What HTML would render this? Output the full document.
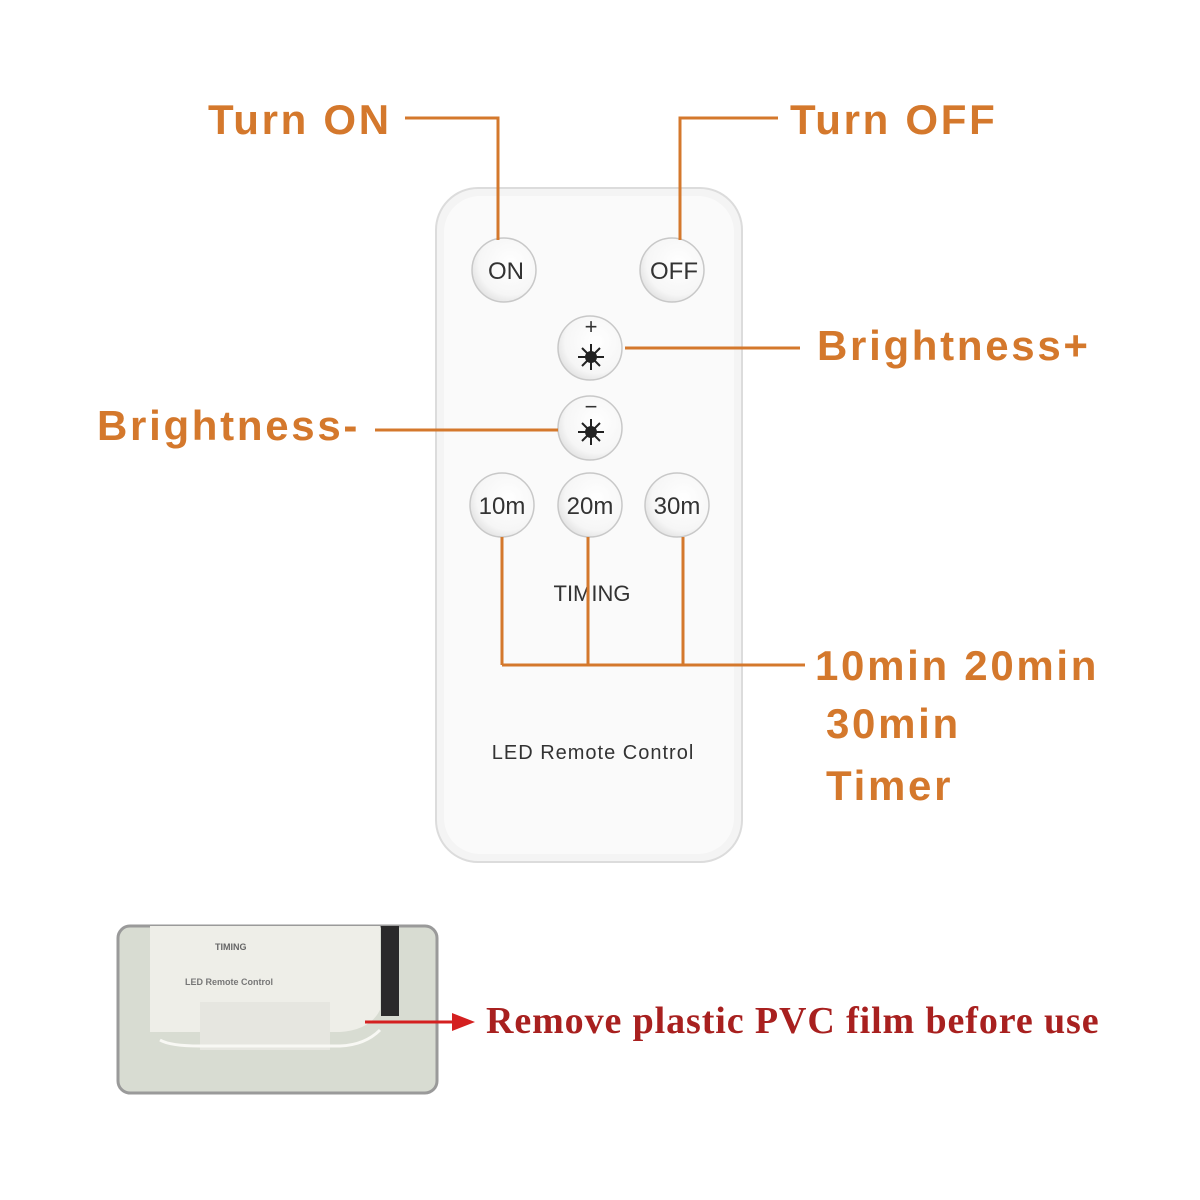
<!DOCTYPE html><html><head><style>
body{margin:0;background:#fff;width:1200px;height:1200px;position:relative;overflow:hidden;font-family:"Liberation Sans",sans-serif}
.t{position:absolute;color:#d4782c;font-weight:bold;font-size:42px;letter-spacing:2.7px;white-space:nowrap}
</style></head><body>
<svg width="1200" height="1200" style="position:absolute;left:0;top:0">
<defs><radialGradient id="b" cx="0.6" cy="0.4" r="0.7"><stop offset="0" stop-color="#fff"/><stop offset="0.7" stop-color="#f6f6f6"/><stop offset="1" stop-color="#dcdcdc"/></radialGradient></defs>
<rect x="436" y="188" width="306" height="674" rx="42" fill="#f4f4f4" stroke="#dcdcdc" stroke-width="2"/>
<rect x="444" y="196" width="290" height="658" rx="36" fill="#fafafa"/>
<g fill="url(#b)" stroke="#c8c8c8" stroke-width="1.5">
<circle cx="504" cy="270" r="32"/><circle cx="672" cy="270" r="32"/>
<circle cx="590" cy="348" r="32"/><circle cx="590" cy="428" r="32"/>
<circle cx="502" cy="505" r="32"/><circle cx="590" cy="505" r="32"/><circle cx="677" cy="505" r="32"/>
</g>
<g font-family="Liberation Sans" font-size="24" fill="#333" text-anchor="middle">
<text x="506" y="279">ON</text><text x="674" y="279">OFF</text>
<text x="502" y="514">10m</text><text x="590" y="514">20m</text><text x="677" y="514">30m</text>
<text x="592" y="601" font-size="22">TIMING</text>
<text x="593" y="759" font-size="20" letter-spacing="1">LED Remote Control</text>
<text x="591" y="334" font-size="22">+</text><text x="591" y="414" font-size="22">−</text>
</g>
<g stroke="#222" stroke-width="2">
<circle cx="591" cy="357" r="5" fill="#222"/><path d="M578 357h26M591 344v26M582 348l18 18M600 348l-18 18"/>
<circle cx="591" cy="432" r="5" fill="#222"/><path d="M578 432h26M591 419v26M582 423l18 18M600 423l-18 18"/>
</g>
<g stroke="#d4782c" stroke-width="3" fill="none">
<path d="M405 118H498V240"/><path d="M778 118H680V240"/>
<path d="M625 348H800"/><path d="M375 430H558"/>
<path d="M502 537V665M588 537V665M683 537V665M502 665H805"/>
</g>
<rect x="118" y="926" width="319" height="167" rx="12" fill="#d8dcd2" stroke="#9a9a9a" stroke-width="3"/>
<path d="M150 926H380V1010Q370 1030 340 1032H150Z" fill="#eeeee8"/>
<path d="M200 1002H330V1050H200Z" fill="#e6e6e0"/>
<path d="M160 1040Q170 1046 200 1046H340Q365 1045 380 1030" stroke="#f8f8f4" stroke-width="3" fill="none"/>
<rect x="381" y="926" width="18" height="90" fill="#2a2a2a"/>
<text x="215" y="950" font-size="9" font-weight="bold" fill="#666" font-family="Liberation Sans">TIMING</text>
<text x="185" y="985" font-size="9" font-weight="bold" fill="#777" font-family="Liberation Sans">LED Remote Control</text>
<path d="M365 1022H455" stroke="#d42020" stroke-width="3"/><path d="M452 1013L475 1022L452 1031Z" fill="#d42020"/>
</svg>
<div class="t" style="left:208px;top:96px">Turn ON</div>
<div class="t" style="left:790px;top:96px">Turn OFF</div>
<div class="t" style="left:817px;top:322px">Brightness+</div>
<div class="t" style="left:97px;top:402px">Brightness-</div>
<div class="t" style="left:815px;top:642px">10min 20min</div>
<div class="t" style="left:826px;top:700px">30min</div>
<div class="t" style="left:826px;top:762px">Timer</div>
<div style="position:absolute;left:486px;top:999px;font-family:'Liberation Serif',serif;font-size:38px;font-weight:bold;letter-spacing:0.9px;color:#a8201f;white-space:nowrap">Remove plastic PVC film before use</div>
</body></html>
